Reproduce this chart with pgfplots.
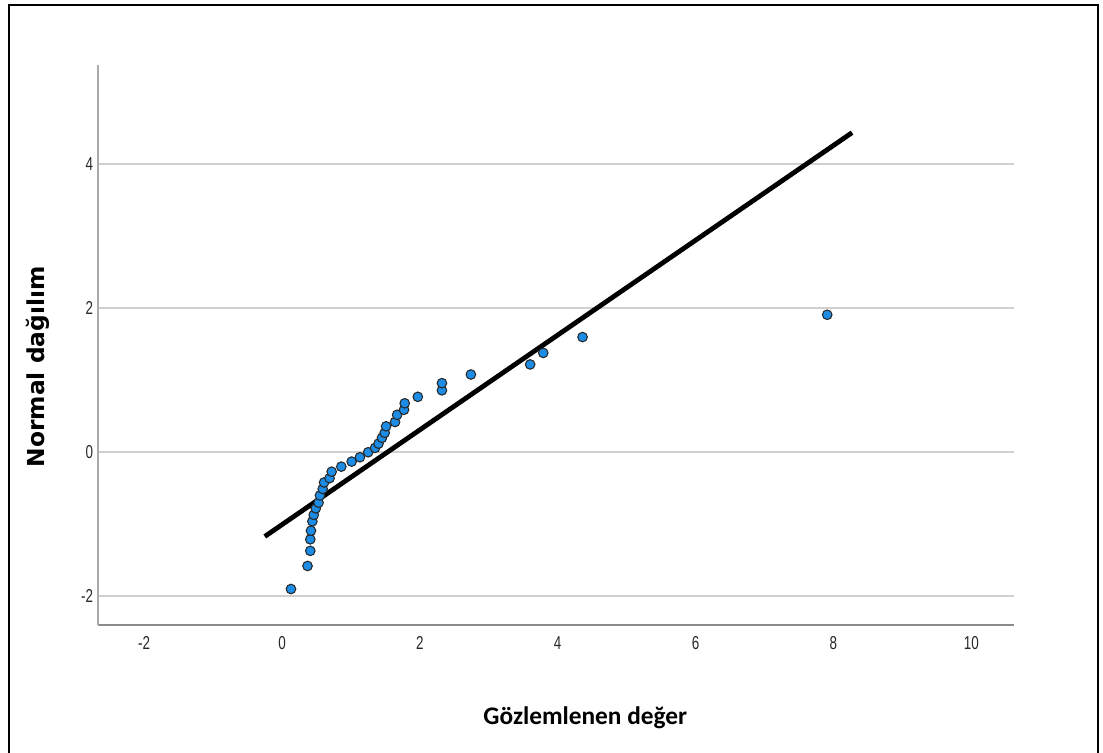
\documentclass[border=0pt]{standalone}
\usepackage{fontspec}
\usepackage{pgfplots}
\pgfplotsset{compat=1.18}
\setmainfont{Liberation Sans}
\newfontfamily\tickfont{Liberation Sans}[FakeStretch=0.72]
\newfontfamily\xlabfont{Carlito}
\newfontfamily\ylabfont{DejaVu Sans}
\definecolor{ptblue}{RGB}{28,140,228}
\definecolor{ptedge}{RGB}{40,40,40}
\definecolor{gridgray}{RGB}{208,208,208}
\definecolor{yaxgray}{RGB}{170,170,170}
\definecolor{xaxgray}{RGB}{140,140,140}
\definecolor{ticktext}{RGB}{40,40,40}
\pgfplotstableread{
x y
0.13 -1.90
0.37 -1.58
0.41 -1.37
0.41 -1.21
0.42 -1.09
0.44 -0.96
0.46 -0.87
0.49 -0.78
0.53 -0.70
0.55 -0.60
0.59 -0.51
0.61 -0.42
0.69 -0.36
0.72 -0.27
0.86 -0.20
1.01 -0.13
1.13 -0.07
1.25 0.00
1.35 0.06
1.40 0.12
1.45 0.20
1.49 0.27
1.51 0.36
1.64 0.42
1.67 0.52
1.77 0.59
1.78 0.68
1.97 0.77
2.32 0.86
2.32 0.96
2.74 1.08
3.60 1.22
3.79 1.38
4.36 1.60
7.91 1.91
}\qqdata
\begin{document}
\begin{tikzpicture}
\useasboundingbox (0,0) rectangle (827.25pt,564.75pt);
\draw[line width=2pt] (6.75pt,-10pt) -- (6.75pt,561pt) -- (823.5pt,561pt) -- (823.5pt,-10pt);
\begin{axis}[
  at={(73.5pt,96pt)}, anchor=south west,
  width=687pt, height=420pt, scale only axis,
  xmin=-2.67, xmax=10.62, ymin=-2.40, ymax=5.38,
  axis x line=bottom, axis y line=left,
  x axis line style={draw=xaxgray, line width=1.8pt, -},
  y axis line style={draw=yaxgray, line width=1.1pt, -},
  xtick={-2,0,2,4,6,8,10}, xticklabels={-2,0,2,4,6,8,10},
  ytick={-2,0,2,4}, yticklabels={-2,0,2,4},
  major tick length=0pt,
  ymajorgrids, xmajorgrids=false,
  major grid style={draw=gridgray, line width=1.4pt},
  tick label style={font=\tickfont\fontsize{14}{16}\selectfont, text=ticktext},
  xticklabel style={anchor=center, yshift=-13.5pt},
  yticklabel style={anchor=east, inner sep=0pt, xshift=-3.5pt},
  xlabel={\xlabfont\bfseries\fontsize{19}{22}\selectfont Gözlemlenen değer},
  ylabel={\ylabfont\bfseries\fontsize{17.5}{20}\selectfont Normal dağılım},
  xlabel style={at={(axis description cs:0.532,-0.166)}, anchor=center},
  ylabel style={at={(axis description cs:-0.0655,0.461)}, anchor=center},
  clip=false,
]
\addplot[only marks, mark=*, mark size=3.6pt, mark options={fill=ptblue, draw=ptedge, line width=0.8pt}] table[x=x,y=y] {\qqdata};
\addplot[black, line width=3.6pt] coordinates {(-0.25,-1.17) (8.27,4.44)};
\end{axis}
\end{tikzpicture}
\end{document}
